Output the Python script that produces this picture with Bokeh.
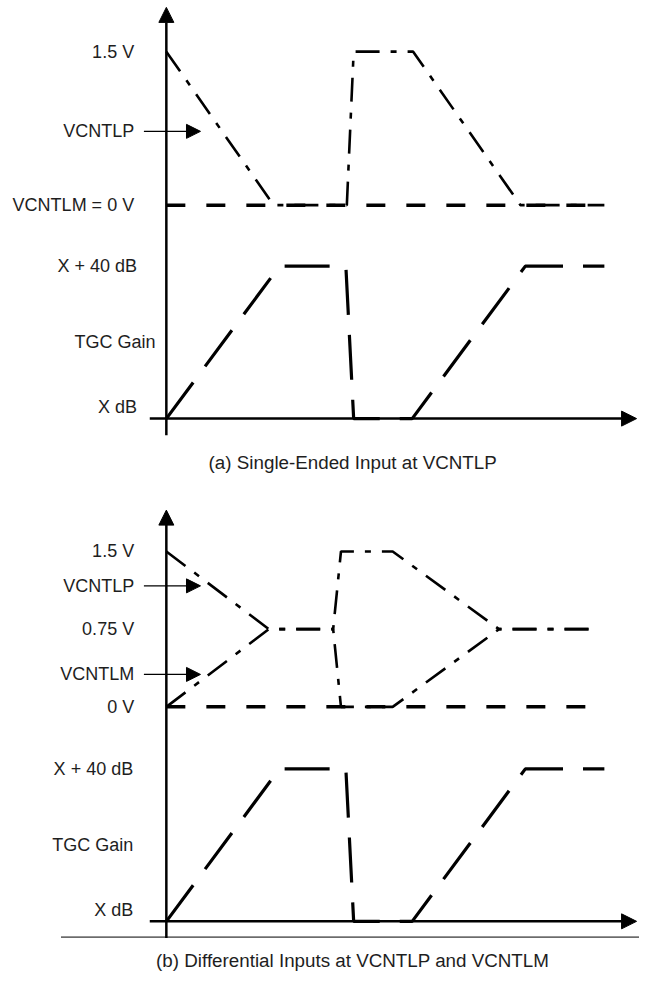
from bokeh.plotting import figure
from bokeh.models import Range1d, Label, Arrow, NormalHead
from bokeh.embed import file_html
from bokeh.resources import INLINE

# ---------------- data (time in arbitrary units from the vertical axis) ----------------
# Panel (a): single-ended input
t_p_a = [0, 110, 185, 192, 253, 363, 449]
vcntlp_a = [1.5, 0, 0, 1.5, 1.5, 0, 0]
t_m_a = [0, 449]
vcntlm_a = [0, 0]

# TGC gain (both panels), dB above X
t_gain = [0, 116, 184, 192, 252, 368, 449]
gain_db = [0, 40, 40, 0, 0, 40, 40]

# Panel (b): differential inputs
t_b = [0, 105, 171, 179, 232, 341, 440]
vcntlp_b = [1.5, 0.75, 0.75, 1.5, 1.5, 0.75, 0.75]
vcntlm_b = [0, 0.75, 0.75, 0, 0, 0.75, 0.75]
t_zero_b = [0, 448]
zero_b = [0, 0]

volt_ticks_a = [(1.5, "1.5 V"), (0, "VCNTLM = 0 V")]
volt_ticks_b = [(1.5, "1.5 V"), (0.75, "0.75 V"), (0, "0 V")]
gain_ticks = [(40, "X + 40 dB"), (0, "X dB")]

# ---------------- layout (drawing units span 655 x 988, canvas 639 x 972) ----------------
W, H = 639, 972
REF_W, REF_H = 655, 988
X0 = 170                     # drawing x of the vertical axis

def make_range(v_hi, px_hi, v_lo, px_lo):
    per_px = (v_hi - v_lo) / (px_lo - px_hi)
    return Range1d(start=v_lo - (REF_H - px_lo) * per_px, end=v_lo + px_lo * per_px)

p = figure(width=W, height=H, output_backend="svg", toolbar_location=None,
           x_range=Range1d(-X0, REF_W - X0), y_range=Range1d(REF_H, 0),
           min_border=0, outline_line_color=None)
p.axis.visible = False
p.grid.visible = False
p.extra_y_ranges = {
    "va": make_range(1.5, 52, 0, 208),
    "ga": make_range(40, 270, 0, 425),
    "vb": make_range(1.5, 560, 0, 718),
    "gb": make_range(40, 781, 0, 936),
}

FONT = "Liberation Sans"
TXT = "#1e1e1e"
FS = "18px"
FS_CAP = "18.8px"

def axes(y_axis_bottom, y_axis_top, x_axis_y):
    p.add_layout(Arrow(end=NormalHead(size=15, fill_color="black", line_color="black", line_width=1),
                       x_start=0, y_start=y_axis_bottom, x_end=0, y_end=y_axis_top,
                       line_width=2.5, line_color="black"))
    p.add_layout(Arrow(end=NormalHead(size=15, fill_color="black", line_color="black", line_width=1),
                       x_start=-17, y_start=x_axis_y, x_end=482, y_end=x_axis_y,
                       line_width=2.5, line_color="black"))

def pointer(label, y):
    p.add_layout(Arrow(end=NormalHead(size=14, fill_color="black", line_color="black", line_width=1),
                       x_start=-23, y_start=y, x_end=35, y_end=y,
                       line_width=1.2, line_color="black"))
    p.add_layout(Label(x=-33, y=y, text=label, text_align="right", text_baseline="middle",
                       text_font=FONT, text_font_size=FS, text_color=TXT))

def tick_labels(ticks, rng, x, yoff=None):
    for v, s in ticks:
        off = (yoff or {}).get(v, 0)
        p.add_layout(Label(x=x, y=v, y_range_name=rng, y_offset=off, text=s,
                           text_align="right", text_baseline="middle",
                           text_font=FONT, text_font_size=FS, text_color=TXT))

# ---------------- panel (a) ----------------
axes(442, 7, 425)
p.line(t_m_a, vcntlm_a, y_range_name="va", line_width=3.5, line_dash="19 21", line_color="black")
p.line(t_p_a, vcntlp_a, y_range_name="va", line_width=2.6, line_dash="24 11 6 11", line_color="black")
p.line(t_gain, gain_db, y_range_name="ga", line_width=3.2, line_dash="45 20", line_color="black")
tick_labels(volt_ticks_a, "va", -33)
tick_labels(gain_ticks, "ga", -30, {0: 12})
p.add_layout(Label(x=-11, y=20, y_range_name="ga", text="TGC Gain", text_align="right",
                   text_baseline="middle", text_font=FONT, text_font_size=FS, text_color=TXT))
pointer("VCNTLP", 133)
p.add_layout(Label(x=191, y=470, text="(a) Single-Ended Input at VCNTLP", text_align="center",
                   text_baseline="middle", text_font=FONT, text_font_size=FS_CAP, text_color=TXT))

# ---------------- panel (b) ----------------
axes(953, 518, 936)
p.segment(x0=[-108], y0=[952], x1=[490], y1=[952], line_width=1, line_color="black")
p.line(t_zero_b, zero_b, y_range_name="vb", line_width=3.5, line_dash="19 21", line_color="black")
p.line(t_b, vcntlp_b, y_range_name="vb", line_width=2.6, line_dash="24 11 6 11", line_color="black")
p.line(t_b, vcntlm_b, y_range_name="vb", line_width=2.6, line_dash="24 11 6 11", line_color="black")
p.line(t_gain, gain_db, y_range_name="gb", line_width=3.2, line_dash="45 20", line_color="black")
tick_labels(volt_ticks_b, "vb", -33)
tick_labels(gain_ticks, "gb", -34, {0: 11})
p.add_layout(Label(x=-34, y=20, y_range_name="gb", text="TGC Gain", text_align="right",
                   text_baseline="middle", text_font=FONT, text_font_size=FS, text_color=TXT))
pointer("VCNTLP", 595)
pointer("VCNTLM", 685)
p.add_layout(Label(x=191, y=976, text="(b) Differential Inputs at VCNTLP and VCNTLM", text_align="center",
                   text_baseline="middle", text_font=FONT, text_font_size=FS_CAP, text_color=TXT))

open("out.html", "w").write(file_html(p, INLINE))
